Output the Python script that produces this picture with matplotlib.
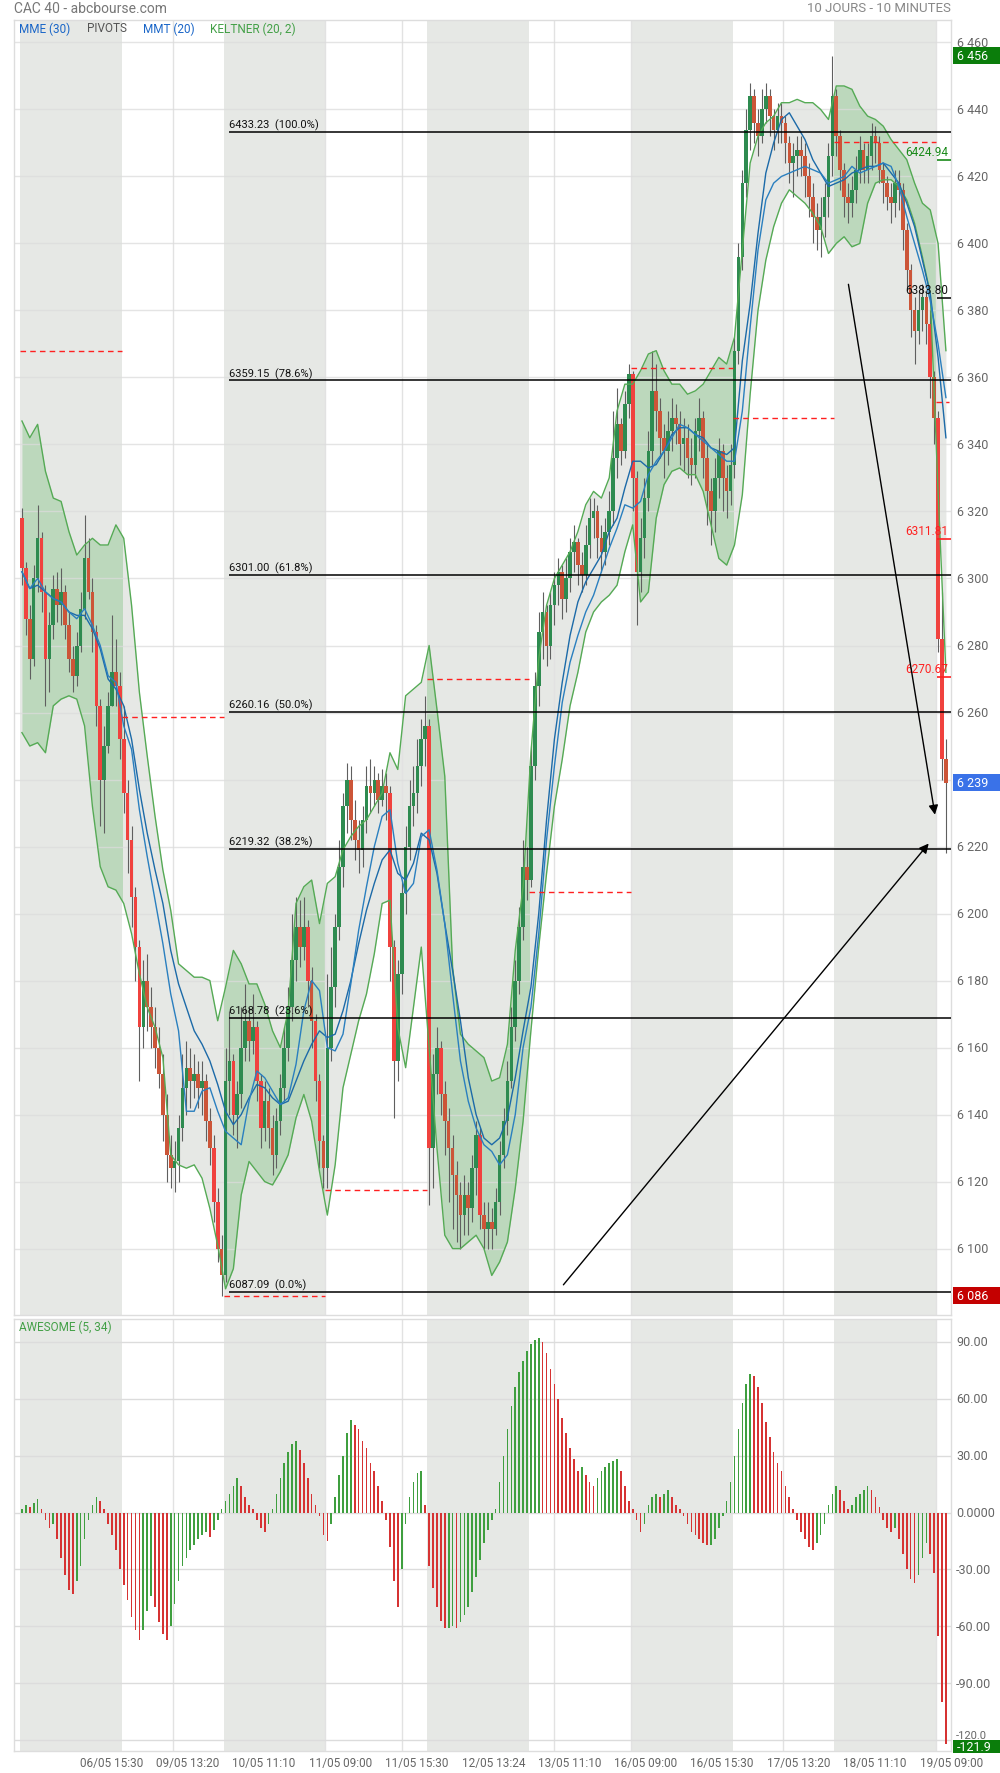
import matplotlib
matplotlib.use("Agg")
import matplotlib.pyplot as plt
from matplotlib.patches import Rectangle
from matplotlib.transforms import blended_transform_factory, offset_copy
import numpy as np

plt.rcParams['font.family'] = ['Roboto', 'DejaVu Sans']

# ---------------- data ----------------
BARS_PER_DAY = 26          # 20 minute bars, 9:00 -> 17:20
shaded_days = [0, 2, 4, 6, 8]

first_open = 6318
closes = [
    6303, 6288, 6276, 6300, 6312, 6296, 6276, 6286, 6297, 6292, 6296, 6286, 6276, 6271, 6280, 6291, 6306, 6296, 6284, 6262, 6240, 6250, 6262, 6272, 6268, 6252,
    6236, 6222, 6205, 6190, 6166, 6180, 6172, 6166, 6160, 6152, 6140, 6128, 6124, 6126, 6136, 6148, 6154, 6150, 6152, 6148, 6150, 6138, 6130, 6114, 6100, 6092,
    6150, 6156, 6140, 6146, 6160, 6168, 6162, 6166, 6150, 6136, 6144, 6136, 6128, 6138, 6148, 6160, 6172, 6186, 6196, 6190, 6196, 6180, 6168, 6150, 6132, 6124,
    6160, 6178, 6196, 6214, 6232, 6240, 6228, 6222, 6219, 6228, 6238, 6236, 6240, 6234, 6238, 6236, 6190, 6156, 6182, 6206, 6220, 6232, 6236, 6244, 6252, 6256,
    6130, 6152, 6160, 6146, 6138, 6130, 6122, 6116, 6110, 6116, 6112, 6124, 6134, 6110, 6106, 6108, 6106, 6114, 6128, 6138, 6150, 6166, 6180, 6196, 6214, 6210,
    6244, 6268, 6284, 6290, 6280, 6292, 6298, 6302, 6294, 6300, 6308, 6311, 6304, 6301, 6310, 6318, 6320, 6312, 6308, 6314, 6320, 6336, 6346, 6338, 6352, 6361,
    6330, 6302, 6312, 6324, 6338, 6356, 6350, 6342, 6338, 6344, 6348, 6346, 6340, 6342, 6336, 6334, 6344, 6348, 6336, 6326, 6320, 6330, 6338, 6330, 6326, 6334,
    6368, 6396, 6418, 6434, 6444, 6436, 6432, 6440, 6444, 6438, 6434, 6438, 6436, 6430, 6424, 6426, 6428, 6426, 6420, 6414, 6408, 6404, 6408, 6414, 6426, 6444,
    6432, 6422, 6414, 6412, 6416, 6422, 6428, 6422, 6426, 6432, 6430, 6422, 6418, 6414, 6412, 6418, 6416, 6404, 6392, 6380, 6374, 6380, 6384, 6376, 6360, 6348,
    6282, 6246, 6239,
]
highs = [
    6321, 6305, 6292, 6304, 6322, 6314, 6298, 6290, 6301, 6302, 6303, 6298, 6290, 6280, 6284, 6296, 6319, 6312, 6300, 6286, 6264, 6256, 6266, 6289, 6282, 6272,
    6262, 6240, 6226, 6208, 6192, 6186, 6188, 6178, 6172, 6166, 6158, 6146, 6134, 6132, 6140, 6158, 6162, 6160, 6158, 6156, 6156, 6152, 6142, 6134, 6118, 6104,
    6160, 6171, 6158, 6150, 6172, 6179, 6172, 6176, 6168, 6152, 6150, 6148, 6140, 6142, 6152, 6166, 6178, 6200, 6205, 6204, 6205, 6198, 6184, 6170, 6152, 6134,
    6182, 6190, 6200, 6222, 6236, 6245, 6244, 6234, 6228, 6232, 6244, 6246, 6244, 6242, 6243, 6242, 6238, 6192, 6186, 6210, 6226, 6240, 6244, 6252, 6258, 6265,
    6258, 6158, 6166, 6162, 6150, 6142, 6134, 6126, 6120, 6122, 6120, 6128, 6138, 6136, 6114, 6114, 6112, 6118, 6132, 6142, 6156, 6172, 6186, 6202, 6222, 6220,
    6250, 6272, 6290, 6296, 6292, 6296, 6302, 6306, 6304, 6306, 6312, 6316, 6312, 6308, 6316, 6324, 6324, 6322, 6316, 6318, 6326, 6350, 6357, 6348, 6356, 6364,
    6362, 6332, 6318, 6330, 6344, 6368, 6364, 6354, 6346, 6350, 6354, 6352, 6350, 6348, 6346, 6342, 6348, 6354, 6350, 6340, 6330, 6336, 6342, 6340, 6334, 6340,
    6372, 6400, 6422, 6440, 6448, 6446, 6440, 6446, 6448, 6446, 6440, 6442, 6442, 6438, 6432, 6430, 6432, 6432, 6430, 6424, 6418, 6412, 6414, 6418, 6430, 6456,
    6446, 6434, 6424, 6418, 6420, 6426, 6432, 6430, 6430, 6436, 6435, 6432, 6424, 6420, 6418, 6422, 6422, 6418, 6406, 6394, 6384, 6386, 6388, 6386, 6380, 6362,
    6350, 6296, 6252,
]
lows = [
    6298, 6283, 6270, 6274, 6296, 6290, 6262, 6266, 6282, 6287, 6286, 6282, 6272, 6266, 6268, 6278, 6288, 6294, 6278, 6256, 6226, 6224, 6248, 6262, 6262, 6246,
    6230, 6212, 6196, 6180, 6150, 6160, 6165, 6160, 6154, 6148, 6132, 6120, 6118, 6117, 6120, 6132, 6140, 6142, 6145, 6142, 6140, 6132, 6125, 6108, 6096, 6086,
    6090, 6140, 6134, 6130, 6142, 6156, 6156, 6158, 6144, 6130, 6132, 6130, 6122, 6124, 6134, 6144, 6156, 6168, 6180, 6184, 6186, 6172, 6160, 6144, 6124, 6118,
    6118, 6156, 6172, 6192, 6208, 6224, 6222, 6216, 6212, 6214, 6224, 6230, 6232, 6230, 6232, 6228, 6180, 6139, 6150, 6176, 6200, 6216, 6226, 6230, 6238, 6244,
    6113, 6118, 6146, 6140, 6128, 6114, 6106, 6102, 6100, 6104, 6104, 6108, 6116, 6106, 6100, 6100, 6100, 6104, 6110, 6124, 6134, 6148, 6162, 6176, 6192, 6204,
    6208, 6240, 6262, 6276, 6274, 6276, 6286, 6292, 6288, 6290, 6296, 6302, 6298, 6296, 6298, 6306, 6312, 6306, 6302, 6304, 6310, 6316, 6330, 6334, 6336, 6348,
    6320, 6286, 6296, 6306, 6320, 6334, 6344, 6336, 6330, 6334, 6338, 6340, 6334, 6332, 6330, 6328, 6330, 6338, 6330, 6316, 6310, 6314, 6324, 6320, 6318, 6322,
    6330, 6364, 6392, 6414, 6428, 6430, 6426, 6430, 6436, 6432, 6428, 6430, 6430, 6424, 6418, 6414, 6420, 6420, 6414, 6408, 6400, 6398, 6396, 6402, 6408, 6420,
    6426, 6416, 6408, 6406, 6408, 6412, 6418, 6418, 6418, 6422, 6424, 6418, 6412, 6410, 6406, 6408, 6410, 6398, 6386, 6372, 6364, 6370, 6374, 6370, 6354, 6340,
    6278, 6240, 6218,
]

# indicators, one value every second bar
kelt_upper = [
    6347, 6342, 6346, 6332, 6324, 6323, 6314, 6307, 6310, 6312, 6310, 6310, 6316,
    6312, 6292, 6266, 6247, 6229, 6213, 6201, 6185, 6183, 6181, 6181, 6180, 6168,
    6178, 6189, 6185, 6179, 6179, 6173, 6165, 6160, 6171, 6203, 6208, 6210, 6197,
    6209, 6211, 6219, 6223, 6226, 6228, 6232, 6236, 6248, 6243, 6265, 6267, 6269,
    6280, 6261, 6241, 6184, 6164, 6161, 6159, 6157, 6150, 6151, 6161, 6189, 6208,
    6248, 6276, 6292, 6300, 6304, 6308, 6314, 6322, 6326, 6324, 6330, 6350, 6358,
    6358, 6362, 6367, 6368, 6362, 6358, 6358, 6355, 6356, 6358, 6362, 6366, 6364,
    6372, 6398, 6424, 6432, 6436, 6438, 6442, 6442, 6443, 6442, 6442, 6440, 6437,
    6447, 6447, 6446, 6441, 6438, 6437, 6435, 6431, 6428, 6425, 6418, 6412, 6410,
    6400, 6368,
]
kelt_lower = [
    6254, 6250, 6251, 6248, 6262, 6264, 6265, 6264, 6256, 6232, 6214, 6208, 6207,
    6203, 6194, 6182, 6172, 6166, 6157, 6128, 6125, 6124, 6125, 6121, 6112, 6101,
    6088, 6094, 6116, 6126, 6123, 6120, 6119, 6123, 6128, 6139, 6146, 6138, 6123,
    6110, 6125, 6148, 6158, 6168, 6176, 6188, 6203, 6204, 6166, 6154, 6172, 6190,
    6160, 6130, 6104, 6100, 6100, 6102, 6104, 6100, 6092, 6096, 6102, 6118, 6138,
    6165, 6190, 6212, 6232, 6246, 6262, 6272, 6284, 6290, 6293, 6295, 6298, 6308,
    6316, 6293, 6296, 6318, 6328, 6332, 6333, 6331, 6331, 6326, 6316, 6306, 6304,
    6310, 6325, 6355, 6380, 6395, 6405, 6412, 6416, 6414, 6412, 6409, 6405, 6397,
    6400, 6402, 6399, 6400, 6412, 6418, 6419, 6419, 6417, 6413, 6406, 6396, 6385,
    6326, 6272,
]
mme30 = [
    6302, 6297, 6298, 6296, 6294, 6293, 6290, 6289, 6289, 6285, 6279, 6270, 6267,
    6262, 6252, 6237, 6224, 6213, 6203, 6189, 6179, 6172, 6165, 6161, 6156, 6149,
    6141, 6137, 6140, 6145, 6149, 6148, 6145, 6143, 6144, 6150, 6156, 6161, 6165,
    6163, 6164, 6171, 6180, 6191, 6201, 6209, 6216, 6219, 6212, 6210, 6215, 6224,
    6222, 6212, 6197, 6183, 6168, 6151, 6140, 6133, 6131, 6133, 6139, 6151, 6165,
    6178, 6200, 6228, 6252, 6269, 6283, 6293, 6299, 6303, 6307, 6314, 6318, 6327,
    6335, 6335, 6333, 6334, 6338, 6343, 6345, 6345, 6343, 6342, 6339, 6338, 6337,
    6339, 6365, 6382, 6403, 6421, 6430, 6437, 6439, 6435, 6431, 6425, 6421, 6417,
    6418, 6419, 6421, 6422, 6423, 6423, 6424, 6421, 6418, 6412, 6405, 6395, 6385,
    6366, 6342,
]
mmt20 = [
    6302, 6297, 6300, 6296, 6294, 6293, 6290, 6288, 6291, 6286, 6280, 6271, 6269,
    6256, 6249, 6231, 6217, 6204, 6191, 6176, 6165, 6141, 6141, 6147, 6148, 6141,
    6135, 6133, 6131, 6144, 6153, 6151, 6147, 6143, 6145, 6155, 6171, 6180, 6177,
    6160, 6159, 6164, 6179, 6195, 6208, 6220, 6229, 6231, 6215, 6206, 6209, 6223,
    6225, 6213, 6197, 6176, 6156, 6144, 6136, 6131, 6129, 6125, 6128, 6140, 6160,
    6172, 6194, 6222, 6244, 6263, 6275, 6283, 6290, 6295, 6302, 6309, 6315, 6322,
    6321, 6323, 6331, 6335, 6338, 6342, 6346, 6345, 6343, 6341, 6339, 6337, 6335,
    6335, 6350, 6375, 6398, 6413, 6418, 6420, 6421, 6422, 6423, 6422, 6421, 6418,
    6419, 6420, 6423, 6421, 6422, 6423, 6424, 6423, 6417, 6408, 6400, 6392, 6383,
    6370, 6354,
]

awesome = [
    2, 4, 3, 5, 7, 2, -4, -8, -6, -14, -24, -33, -41, -43, -36, -28, -14, -4, 4, 8, 6, 2, -6, -12, -20, -30,
    -38, -46, -55, -62, -67, -62, -52, -44, -50, -58, -64, -67, -60, -48, -36, -28, -24, -20, -17, -14, -12, -10, -13, -9, -4, 2,
    6, 10, 14, 18, 14, 8, 4, 2, -4, -8, -10, -6, 2, 10, 18, 26, 32, 36, 38, 33, 26, 18, 10, 4, -2, -12,
    -15, -6, 8, 20, 30, 42, 49, 46, 44, 38, 34, 26, 22, 14, 6, -4, -18, -36, -50, -30, -6, 8, 16, 21, 22, 4,
    -28, -40, -50, -57, -61, -61, -60, -61, -58, -54, -50, -42, -34, -25, -16, -9, -4, 2, 16, 30, 44, 56, 66, 74, 80, 85,
    89, 91, 92, 90, 84, 76, 68, 60, 50, 42, 34, 28, 22, 24, 20, 16, 14, 18, 22, 24, 26, 27, 28, 22, 14, 6,
    2, -4, -10, -6, 4, 8, 10, 8, 10, 12, 8, 4, 2, -2, -6, -10, -12, -14, -16, -17, -17, -14, -8, -2, 6, 16,
    30, 44, 58, 68, 73, 72, 66, 58, 48, 40, 32, 26, 22, 14, 8, 2, -4, -10, -14, -18, -20, -16, -12, -6, 4, 10,
    14, 12, 6, 2, 4, 8, 10, 12, 14, 12, 8, 3, -4, -8, -10, -8, -14, -22, -30, -35, -37, -33, -24, -16, -22, -32,
    -65, -100, -121.9,
]

day_pivots = [6368, 6258.7, 6086, 6117.5, 6270, 6206.3, 6362.8, 6347.9, 6430.2, 6352.8]
last_day_levels = [6424.94, 6383.80, 6311.81, 6270.67]
last_day_colors = ["#1a8a1a", "#111111", "#ff2020", "#ff2020"]

fib_levels = [6433.23, 6359.15, 6301.00, 6260.16, 6219.32, 6168.78, 6087.09]
fib_pcts = ["100.0%", "78.6%", "61.8%", "50.0%", "38.2%", "23.6%", "0.0%"]

# (day number, dd/mm, hh:mm)
time_ticks = [(0, "06/05", "15:30"), (1, "09/05", "13:20"), (2, "10/05", "11:10"),
              (3, "11/05", "09:00"), (3, "11/05", "15:30"), (4, "12/05", "13:24"),
              (5, "13/05", "11:10"), (6, "16/05", "09:00"), (6, "16/05", "15:30"),
              (7, "17/05", "13:20"), (8, "18/05", "11:10"), (9, "19/05", "09:00")]

# trend arrows drawn on the chart: (bar, price) -> (bar, price)
arrows = [((211.1, 6387.8), (233.2, 6229.5)),
          ((138.3, 6089.2), (231.6, 6220.9))]

price_ticks = list(range(6100, 6461, 20))
ao_ticks = [90, 60, 30, 0, -30, -60, -90, -120]
ao_tick_labels = ["90.00", "60.00", "30.00", "0.0000", "-30.00", "-60.00", "-90.00", "-120.0"]

# ---------------- styling ----------------
SHADE = "#e6e8e5"
BAND_GREEN = "#bcd8bc"
BAND_LINE = "#55aa55"
GRID = "#e2e2e2"
UP = "#2e8b50"
DOWN = "#cc5538"
DOWN_BIG = "#f0423e"
TXT = "#666666"

XMIN, XMAX = -2.03, 237.3
YMIN, YMAX = 6080.2, 6466.7
AOMIN, AOMAX = -125.8, 102.1

fig = plt.figure(figsize=(10, 17.74), dpi=100)
ax = fig.add_axes([0.014, 0.2582, 0.937, 0.72999])
ax2 = fig.add_axes([0.014, 0.0124, 0.937, 0.2435])

n = len(closes)
idx = np.arange(n)
opens = np.array([first_open] + closes[:-1], dtype=float)
c = np.array(closes, dtype=float)
ind_x = np.arange(0, n, 2)


def tick_pos(day, hhmm):
    h, m = hhmm.split(":")
    minutes = (int(h) - 9) * 60 + int(m)
    return day * BARS_PER_DAY - 0.5 + minutes / 20.0


tick_positions = [tick_pos(d, t) for d, _, t in time_ticks]


def is_shaded(pos):
    d = int((pos + 0.5) // BARS_PER_DAY)
    start = d * BARS_PER_DAY - 0.5
    return d in shaded_days and abs(pos - start) > 0.01


for a in (ax, ax2):
    a.set_xticks([])
    a.set_yticks([])
    for s in a.spines.values():
        s.set_color("#dddddd")
        s.set_linewidth(1)
    for d in shaded_days:
        a.axvspan(d * BARS_PER_DAY - 0.5, (d + 1) * BARS_PER_DAY - 0.5,
                  color=SHADE, lw=0, zorder=0.5)
    for p in tick_positions:
        if not is_shaded(p):
            a.axvline(p, color=GRID, lw=1, zorder=1.5)

# ---- main panel ----
ax.fill_between(ind_x, kelt_lower, kelt_upper, color=SHADE, lw=0, zorder=1)
for d in shaded_days:
    poly = ax.fill_between(ind_x, kelt_lower, kelt_upper, color=BAND_GREEN, lw=0, zorder=1.1)
    clip = Rectangle((d * BARS_PER_DAY - 0.5, YMIN), BARS_PER_DAY, YMAX - YMIN,
                     transform=ax.transData)
    poly.set_clip_path(clip)

ax.hlines(price_ticks, XMIN, XMAX, color="#dcdcdc", lw=1, alpha=0.75, zorder=1.6)

body_colors = [UP if cl >= op else (DOWN_BIG if op - cl >= 14 else DOWN)
               for op, cl in zip(opens, c)]
ax.vlines(idx, lows, highs, color="#5f5f5f", lw=0.8, zorder=2)
ax.bar(idx, np.maximum(np.abs(c - opens), 0.8), bottom=np.minimum(opens, c),
       width=0.92, color=body_colors, lw=0, zorder=2.1)

ax.plot(ind_x, kelt_upper, color=BAND_LINE, lw=1, zorder=3)
ax.plot(ind_x, kelt_lower, color=BAND_LINE, lw=1, zorder=3)
ax.plot(ind_x, mme30, color="#1c6aa8", lw=1.0, zorder=3.2)
ax.plot(ind_x, mmt20, color="#2a7fbf", lw=1.0, zorder=3.2)

for d, lvl in enumerate(day_pivots):
    x0 = d * BARS_PER_DAY - 0.5
    x1 = min((d + 1) * BARS_PER_DAY - 0.5, n - 0.3)
    ax.hlines(lvl, x0, x1, colors="#ff2020", linestyles=(0, (4, 3)), lw=1, zorder=4)

last_start = 9 * BARS_PER_DAY - 0.4
for lvl, col in zip(last_day_levels, last_day_colors):
    ax.hlines(lvl, last_start, XMAX, colors=col, lw=1.2, zorder=5)
    ax.text(236.6, lvl + 0.6, f"{lvl:.2f}", color=col, ha="right", va="bottom",
            fontsize=8.5, zorder=5)

fib_start = 52.9
for lvl, pct in zip(fib_levels, fib_pcts):
    ax.hlines(lvl, fib_start, XMAX, color="black", lw=1.1, zorder=5)
    ax.text(fib_start, lvl + 0.5, f"{lvl:.2f}  ({pct})", fontsize=8, ha="left",
            va="bottom", color="#111111", zorder=5)

for (x0, y0), (x1, y1) in arrows:
    ax.annotate("", xy=(x1, y1), xytext=(x0, y0), zorder=6,
                arrowprops=dict(arrowstyle="-|>", color="black", lw=1,
                                mutation_scale=14, shrinkA=0, shrinkB=0))

ax.set_xlim(XMIN, XMAX)
ax.set_ylim(YMIN, YMAX)

# ---- awesome oscillator ----
ax2.hlines(ao_ticks, XMIN, XMAX, color="#dcdcdc", lw=1, zorder=1.6)
ao_colors = ["#3f9f3f" if i == 0 or awesome[i] >= awesome[i - 1] else "#d63333"
             for i in range(len(awesome))]
ax2.bar(np.arange(len(awesome)), awesome, width=0.42, color=ao_colors, lw=0, zorder=3)
ax2.set_xlim(XMIN, XMAX)
ax2.set_ylim(AOMIN, AOMAX)

# ---- right axis labels and value boxes ----
tr_main = blended_transform_factory(fig.transFigure, ax.transData)
tr_ao = blended_transform_factory(fig.transFigure, ax2.transData)
for v in price_ticks:
    fig.text(0.957, v, f"{v // 1000} {v % 1000:03d}", transform=tr_main,
             ha="left", va="center", fontsize=9, color=TXT)
for v, lab in zip(ao_ticks, ao_tick_labels):
    if v == ao_ticks[-1]:
        # sits just above the value box of the last bar, as on the original
        fig.text(0.956, v, lab, transform=tr_ao, ha="left", va="bottom",
                 fontsize=8, color=TXT)
    else:
        fig.text(0.956, v, lab, transform=tr_ao, ha="left", va="center", fontsize=9, color=TXT)


def value_box(tr, value, text, color, h, shift=0.0):
    fig.add_artist(Rectangle((0.953, value + shift - h / 2), 0.047, h, transform=tr,
                             facecolor=color, edgecolor="none", zorder=10))
    fig.text(0.957, value + shift, text, transform=tr, ha="left", va="center",
             fontsize=9, color="white", zorder=11)


value_box(tr_main, max(highs), f"{max(highs) // 1000} {max(highs) % 1000:03d}", "#0b7d0b", 5.1)
value_box(tr_main, closes[-1], f"{closes[-1] // 1000} {closes[-1] % 1000:03d}", "#3a72e8", 5.1)
value_box(tr_main, min(lows), f"{min(lows) // 1000} {min(lows) % 1000:03d}", "#c40000", 5.1)
value_box(tr_ao, awesome[-1], f"{awesome[-1]:.1f}", "#0b7d0b", 7.0, shift=-1.4)

# ---- date labels ----
tr_date = offset_copy(blended_transform_factory(ax2.transData, fig.transFigure),
                      fig=fig, x=15, y=0, units="dots")
for p, (d, dm, t) in zip(tick_positions, time_ticks):
    fig.text(p, 0.0062, f"{dm} {t}", transform=tr_date, ha="center", va="center",
             fontsize=8.5, color=TXT)

# ---- titles and legends ----
fig.text(0.014, 1 - 9 / 1774, "CAC 40 - abcbourse.com", fontsize=10, color="#777777", va="center")
fig.text(0.951, 1 - 9 / 1774, "10 JOURS - 10 MINUTES", fontsize=9.5, color="#888888",
         va="center", ha="right")
legend_y = 1 - 29 / 1774
for x, txt, col in [(0.019, "MME (30)", "#1a66c8"), (0.087, "PIVOTS", "#555555"),
                    (0.143, "MMT (20)", "#1a66c8"), (0.210, "KELTNER (20, 2)", "#43a047")]:
    fig.text(x, legend_y, txt, fontsize=8.5, color=col, va="center")
fig.text(0.019, 1 - 1327 / 1774, "AWESOME (5, 34)", fontsize=8.5, color="#43a047", va="center")

fig.savefig("out.png", dpi=100)
